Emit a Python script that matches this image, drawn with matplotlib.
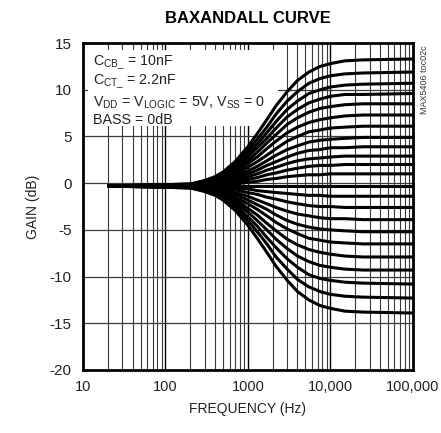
# Baxandall curve: treble control family (MAX5406), gain vs frequency

import matplotlib.pyplot as plt
from matplotlib.patches import Rectangle
from matplotlib.ticker import FixedLocator, NullFormatter, NullLocator

plt.rcParams['font.family'] = ['Liberation Sans Narrow', 'Liberation Sans', 'DejaVu Sans']
plt.rcParams['mathtext.default'] = 'regular'
plt.rcParams['axes.unicode_minus'] = False

FREQ_HZ = [20, 200, 300, 400, 500, 700, 1000, 1300, 1700, 2200, 3000, 4000,
           5500, 7500, 10000, 15000, 25000, 100000]

# gain (dB) per curve, top (max treble boost) to bottom (max cut)
GAIN_DB = [
    [-0.3, -0.1, 0.3, 0.7, 1.2, 2.3, 3.9, 5.3, 6.8, 8.3, 9.8, 11.0, 11.9, 12.5, 12.8, 13.1, 13.2, 13.3],
    [-0.3, -0.1, 0.2, 0.6, 1.0, 2.0, 3.5, 4.7, 6.0, 7.4, 8.8, 9.8, 10.7, 11.2, 11.5, 11.7, 11.8, 11.9],
    [-0.3, -0.1, 0.2, 0.5, 0.9, 1.8, 3.1, 4.2, 5.4, 6.6, 7.9, 8.8, 9.6, 10.0, 10.3, 10.5, 10.6, 10.7],
    [-0.3, -0.2, 0.1, 0.4, 0.8, 1.6, 2.8, 3.8, 4.8, 5.9, 7.1, 7.9, 8.6, 9.0, 9.3, 9.5, 9.5, 9.6],
    [-0.3, -0.2, 0.1, 0.4, 0.7, 1.4, 2.4, 3.3, 4.3, 5.2, 6.3, 7.0, 7.6, 8.0, 8.2, 8.4, 8.5, 8.5],
    [-0.3, -0.2, 0.0, 0.3, 0.5, 1.1, 2.1, 2.8, 3.7, 4.5, 5.4, 6.0, 6.5, 6.8, 7.0, 7.2, 7.3, 7.3],
    [-0.3, -0.2, 0.0, 0.2, 0.4, 0.9, 1.7, 2.3, 3.0, 3.7, 4.5, 5.0, 5.5, 5.7, 5.9, 6.0, 6.1, 6.1],
    [-0.3, -0.2, -0.1, 0.1, 0.3, 0.7, 1.3, 1.8, 2.4, 3.0, 3.6, 4.0, 4.4, 4.6, 4.7, 4.8, 4.9, 4.9],
    [-0.3, -0.2, -0.1, 0.0, 0.2, 0.5, 1.0, 1.4, 1.9, 2.3, 2.8, 3.2, 3.5, 3.6, 3.8, 3.8, 3.9, 3.9],
    [-0.3, -0.3, -0.2, -0.1, 0.1, 0.3, 0.7, 1.0, 1.4, 1.7, 2.1, 2.4, 2.6, 2.7, 2.8, 2.9, 2.9, 2.9],
    [-0.3, -0.3, -0.2, -0.1, 0.0, 0.1, 0.4, 0.6, 0.9, 1.1, 1.4, 1.6, 1.8, 1.9, 1.9, 2.0, 2.0, 2.0],
    [-0.3, -0.3, -0.2, -0.2, -0.2, -0.1, 0.1, 0.2, 0.4, 0.5, 0.7, 0.8, 0.9, 0.9, 1.0, 1.0, 1.0, 1.0],
    [-0.3, -0.3, -0.3, -0.3, -0.3, -0.3, -0.3, -0.3, -0.3, -0.3, -0.3, -0.3, -0.3, -0.3, -0.3, -0.3, -0.3, -0.3],
    [-0.3, -0.3, -0.3, -0.4, -0.4, -0.5, -0.6, -0.8, -0.9, -1.0, -1.1, -1.2, -1.3, -1.3, -1.4, -1.4, -1.4, -1.4],
    [-0.3, -0.3, -0.4, -0.5, -0.6, -0.7, -1.0, -1.2, -1.5, -1.7, -2.0, -2.2, -2.4, -2.5, -2.5, -2.6, -2.6, -2.6],
    [-0.3, -0.4, -0.5, -0.6, -0.7, -1.0, -1.4, -1.8, -2.2, -2.6, -3.0, -3.3, -3.5, -3.7, -3.8, -3.8, -3.9, -3.9],
    [-0.3, -0.4, -0.5, -0.7, -0.8, -1.2, -1.8, -2.3, -2.8, -3.4, -4.0, -4.4, -4.7, -4.9, -5.0, -5.1, -5.2, -5.2],
    [-0.3, -0.4, -0.6, -0.8, -1.0, -1.5, -2.2, -2.8, -3.5, -4.2, -4.9, -5.4, -5.9, -6.1, -6.3, -6.4, -6.5, -6.5],
    [-0.3, -0.4, -0.6, -0.9, -1.1, -1.7, -2.7, -3.4, -4.3, -5.1, -6.0, -6.6, -7.1, -7.4, -7.6, -7.8, -7.9, -7.9],
    [-0.3, -0.4, -0.7, -1.0, -1.3, -2.0, -3.1, -4.0, -5.0, -6.0, -7.0, -7.8, -8.4, -8.8, -9.0, -9.2, -9.3, -9.3],
    [-0.3, -0.5, -0.8, -1.1, -1.5, -2.3, -3.6, -4.6, -5.8, -6.9, -8.1, -9.0, -9.8, -10.2, -10.4, -10.6, -10.7, -10.8],
    [-0.3, -0.5, -0.8, -1.2, -1.6, -2.6, -4.0, -5.2, -6.5, -7.9, -9.2, -10.3, -11.1, -11.6, -11.9, -12.1, -12.2, -12.3],
    [-0.3, -0.5, -0.9, -1.3, -1.8, -2.9, -4.5, -5.9, -7.4, -8.9, -10.4, -11.6, -12.5, -13.1, -13.4, -13.7, -13.8, -13.9],
]

X_TICKS = [10, 100, 1000, 10000, 100000]
X_TICK_LABELS = ['10', '100', '1000', '10,000', '100,000']
Y_TICKS = [-20, -15, -10, -5, 0, 5, 10, 15]

NOTES = [
    r'C$_{CB\_}$ = 10nF',
    r'C$_{CT\_}$ = 2.2nF',
    r'V$_{DD}$ = V$_{LOGIC}$ = 5V, V$_{SS}$ = 0',
    'BASS = 0dB',
]

fig = plt.figure(figsize=(4.41, 4.33), dpi=100)
ax = fig.add_axes([0.188, 0.1455, 0.748, 0.755])

ax.set_xscale('log')
ax.set_xlim(10, 100000)
ax.set_ylim(-20, 15)

# grid: every 1-2-...-9 per decade, every 5 dB
minor = [m * 10 ** d for d in range(1, 5) for m in range(2, 10)]
for f in minor:
    ax.axvline(f, color='#3a3a3a', lw=0.8, zorder=1)
for f in X_TICKS[1:-1]:
    ax.axvline(f, color='black', lw=1.0, zorder=1)
for g in Y_TICKS[1:-1]:
    ax.axhline(g, color='#3a3a3a', lw=0.9, zorder=1)

for row in GAIN_DB:
    ax.plot(FREQ_HZ, row, color='black', lw=2.2, solid_joinstyle='round',
            solid_capstyle='butt', zorder=4)

# white panel behind the conditions text
ax.add_patch(Rectangle((0.015, 0.745), 0.577, 0.234, transform=ax.transAxes,
                       facecolor='white', edgecolor='none', zorder=3))
for s, yy in zip(NOTES, [0.939, 0.881, 0.818, 0.765]):
    ax.text(0.03, yy, s, transform=ax.transAxes, fontsize=10.3, va='center',
            ha='left', color='#222222', zorder=5)

ax.xaxis.set_major_locator(FixedLocator(X_TICKS))
ax.xaxis.set_minor_locator(NullLocator())
ax.xaxis.set_minor_formatter(NullFormatter())
ax.set_xticklabels(X_TICK_LABELS)
ax.set_yticks(Y_TICKS)
ax.tick_params(axis='both', length=0, colors='#222222')
ax.tick_params(axis='x', pad=7, labelsize=10.5)
ax.tick_params(axis='y', pad=8, labelsize=11)

for sp in ax.spines.values():
    sp.set_linewidth(2.0)
    sp.set_color('black')
    sp.set_zorder(6)

ax.set_xlabel('FREQUENCY (Hz)', fontsize=10, color='#222222', labelpad=6)
ax.set_ylabel('GAIN (dB)', fontsize=10, color='#222222', labelpad=7)
fig.text(0.562, 0.958, 'BAXANDALL CURVE', ha='center', va='center',
         fontsize=12, fontweight='bold')
fig.text(0.963, 0.895, 'MAX5406 toc02c', rotation=90, ha='center', va='top',
         fontsize=6.5, color='#333333')

fig.savefig('out.png', dpi=100)
